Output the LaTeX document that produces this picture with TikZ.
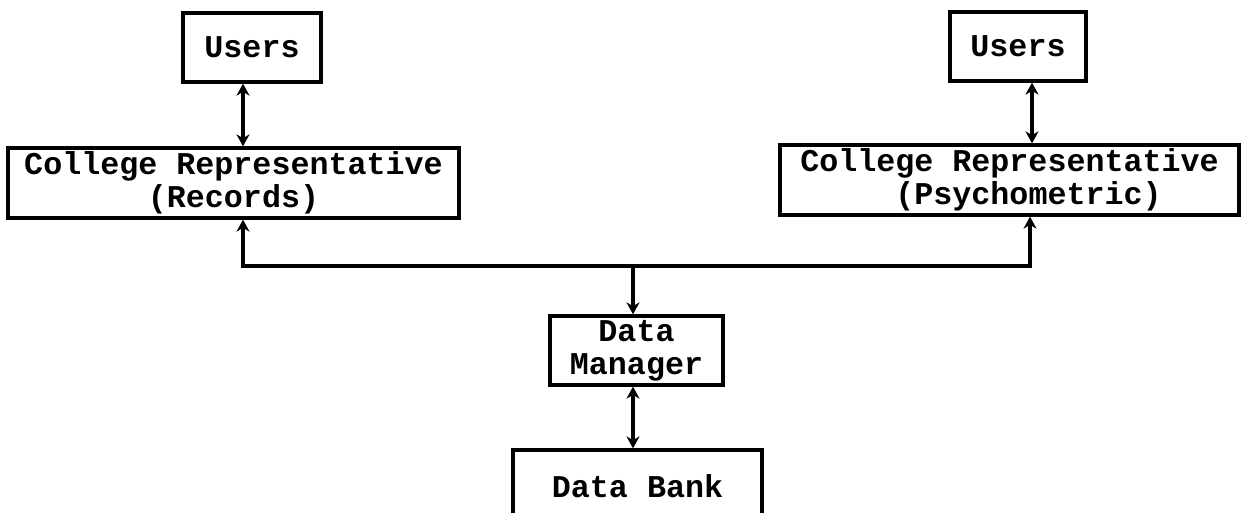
\documentclass[tikz,border=0pt]{standalone}
\usepackage{fontspec}
\setmonofont{Liberation Mono}
\usepackage{tikz}
\usetikzlibrary{arrows.meta,positioning,calc}

\begin{document}
\begin{tikzpicture}[x=1pt, y=-1pt,
    box/.style={draw, line width=3.3pt, inner sep=0pt, align=center,
        font=\fontsize{31.7}{33}\selectfont\ttfamily\bfseries},
    link/.style={line width=3.3pt},
    tip/.style={{Stealth[length=12pt, width=13pt]}-{Stealth[length=12pt, width=13pt]}}]
    \useasboundingbox (0,0) rectangle (1244,512);
    \clip (0,0) rectangle (1244,512);

    % Left side: Records
    \node[box, minimum width=138pt, minimum height=69pt] (usersL) at (252,47.5) {Users};
    \node[box, minimum width=451pt, minimum height=70pt] (repL) at (233.5,183) {College Representative\\(Records)};

    % Right side: Psychometric
    \node[box, minimum width=136pt, minimum height=69pt] (usersR) at (1018,46.5) {Users};
    \node[box, minimum width=459pt, minimum height=70pt] (repR) at (1009.5,180) {College Representative\\\hspace*{1.2em}(Psychometric)};

    % Centre: manager and bank
    \node[box, minimum width=173pt, minimum height=69pt] (manager) at (636.5,350.5) {Data\\Manager};
    \node[box, minimum width=249pt, minimum height=72pt] (bank) at (637.5,486) {Data Bank};

    % Bus between the two representatives
    \coordinate (busL) at (243,266);
    \coordinate (bus) at (633,266);
    \coordinate (busR) at (1030,266);

    % Arrows
    \draw[link, tip] ([xshift=-9pt]usersL.south) -- ([xshift=-9pt]usersL.south |- repL.north);
    \draw[link, tip] ([xshift=14pt]usersR.south) -- ([xshift=14pt]usersR.south |- repR.north);
    \draw[link, tip] (repL.south -| busL) -- (busL) -- (busR) -- (repR.south -| busR);
    \draw[link, -{Stealth[length=12pt, width=13pt]}] (bus) -- (bus |- manager.north);
    \draw[link, tip] (manager.south -| bus) -- (bus |- bank.north);
\end{tikzpicture}
\end{document}
